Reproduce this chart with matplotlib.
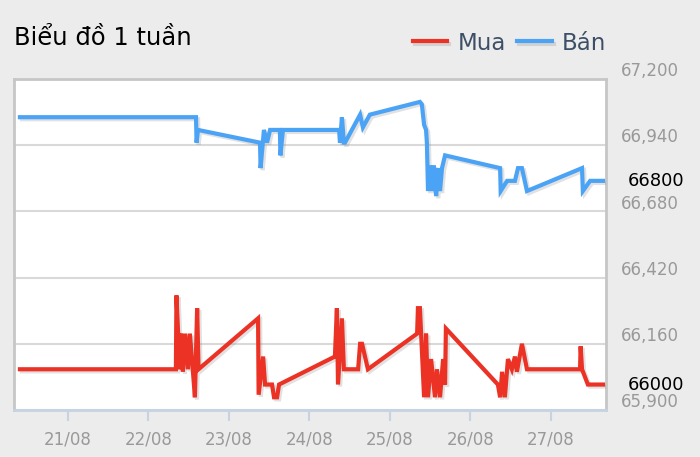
import pandas as pd
import matplotlib
matplotlib.use("Agg")
import matplotlib.pyplot as plt
import matplotlib.dates as mdates
import matplotlib.patheffects as pe
from matplotlib.ticker import FuncFormatter
from matplotlib.transforms import ScaledTranslation

YEAR = "2023"

ban_times = ["20/08 09:40", "22/08 14:10", "22/08 14:20", "22/08 14:45",
             "23/08 09:15", "23/08 09:25", "23/08 10:25", "23/08 11:20",
             "23/08 12:15", "23/08 15:10", "23/08 15:20", "23/08 16:05",
             "24/08 08:50", "24/08 09:05", "24/08 09:40", "24/08 10:15",
             "24/08 10:35", "24/08 15:05", "24/08 15:55", "24/08 18:00",
             "25/08 08:55", "25/08 09:30", "25/08 10:10", "25/08 10:45",
             "25/08 11:00", "25/08 11:20", "25/08 11:55", "25/08 12:30",
             "25/08 13:05", "25/08 13:45", "25/08 14:20", "25/08 14:55",
             "25/08 15:30", "25/08 16:25", "26/08 08:50", "26/08 09:00",
             "26/08 10:55", "26/08 13:15", "26/08 14:10", "26/08 15:20",
             "26/08 16:50", "27/08 09:15", "27/08 09:30", "27/08 11:40",
             "27/08 15:30"]
ban_values = [67050, 67050, 66950, 67000,
              66950, 66850, 67000, 66950,
              67000, 67000, 66900, 67000,
              67000, 66950, 67050, 66950,
              66950, 67060, 67010, 67060,
              67110, 67100, 67020, 67000,
              66950, 66760, 66860, 66760,
              66860, 66740, 66850, 66760,
              66850, 66900, 66850, 66760,
              66800, 66800, 66850, 66850,
              66760, 66850, 66760, 66800,
              66800]

mua_times = ["20/08 09:40", "22/08 08:10", "22/08 08:20", "22/08 08:50",
             "22/08 09:05", "22/08 09:40", "22/08 10:15", "22/08 10:55",
             "22/08 11:45", "22/08 12:20", "22/08 13:15", "22/08 13:50",
             "22/08 14:30", "22/08 14:55", "23/08 08:40", "23/08 08:50",
             "23/08 10:10", "23/08 10:45", "23/08 12:50", "23/08 13:25",
             "23/08 14:20", "23/08 14:55", "24/08 07:35", "24/08 08:10",
             "24/08 08:30", "24/08 09:40", "24/08 10:15", "24/08 14:30",
             "24/08 15:05", "24/08 15:40", "24/08 17:25", "25/08 08:05",
             "25/08 08:20", "25/08 08:55", "25/08 10:10", "25/08 10:45",
             "25/08 11:20", "25/08 12:15", "25/08 13:25", "25/08 14:00",
             "25/08 14:55", "25/08 15:50", "25/08 16:25", "25/08 16:40",
             "26/08 08:10", "26/08 08:50", "26/08 09:25", "26/08 10:15",
             "26/08 11:10", "26/08 12:20", "26/08 13:15", "26/08 13:50",
             "26/08 15:20", "26/08 16:50", "27/08 08:40", "27/08 08:50",
             "27/08 09:15", "27/08 11:00", "27/08 15:30"]
mua_values = [66060, 66060, 66350, 66200,
              66060, 66200, 66050, 66200,
              66060, 66200, 66050, 65950,
              66300, 66060, 66260, 65960,
              66110, 66000, 66000, 65950,
              65950, 66000, 66110, 66300,
              66000, 66260, 66060, 66060,
              66160, 66160, 66060, 66200,
              66300, 66300, 65950, 66200,
              65950, 66100, 65950, 66060,
              65950, 66100, 66000, 66220,
              66000, 65950, 66050, 65950,
              66100, 66060, 66110, 66050,
              66160, 66060, 66060, 66150,
              66060, 66000, 66000]

y_ticks = [65900, 66160, 66420, 66680, 66940, 67200]
x_ticks = ["21/08", "22/08", "23/08", "24/08", "25/08", "26/08", "27/08"]
x_start = "20/08 07:54"
x_end = "27/08 16:24"


def to_dt(s):
    return pd.to_datetime([v + "/" + YEAR if len(v) == 5 else
                           v[:5] + "/" + YEAR + v[5:] for v in s],
                          format="mixed", dayfirst=True)


ban_x = to_dt(ban_times)
mua_x = to_dt(mua_times)

fig = plt.figure(figsize=(7, 4.57), dpi=100, facecolor="#ececec")
ax = fig.add_axes([14 / 700, 1 - 410 / 457, 592 / 700, 331 / 457])
ax.set_facecolor("white")

shadow = [pe.SimpleLineShadow(offset=(1.5, -1.5), shadow_color="#888888",
                              alpha=0.25), pe.Normal()]
red = "#ec3224"
blue = "#4ba3f6"
ax.plot(mua_x, mua_values, color=red, lw=3.0, label="Mua",
        path_effects=shadow, solid_joinstyle="miter", zorder=3)
ax.plot(ban_x, ban_values, color=blue, lw=3.0, label="Bán",
        path_effects=shadow, solid_joinstyle="miter", zorder=3)

ax.set_ylim(y_ticks[0], y_ticks[-1])
ax.set_xlim(to_dt([x_start])[0], to_dt([x_end])[0])

ax.set_yticks(y_ticks)
ax.yaxis.set_major_formatter(FuncFormatter(lambda v, p: f"{int(v):,}"))
ax.yaxis.tick_right()
ax.tick_params(axis="y", length=0, pad=11, labelsize=12, labelcolor="#999999")
for lab in ax.get_yticklabels():
    lab.set_verticalalignment("baseline")
    lab.set_transform(lab.get_transform() +
                      ScaledTranslation(0, 2 / 72, fig.dpi_scale_trans))
ax.grid(axis="y", color="#d9d9d9", lw=1.5)
ax.set_axisbelow(True)

ax.set_xticks(to_dt(x_ticks))
ax.xaxis.set_major_formatter(mdates.DateFormatter("%d/%m"))
ax.tick_params(axis="x", direction="out", length=8, width=1.5,
               color="#c5d3e3", pad=7, labelsize=12, labelcolor="#999999")

for s in ax.spines.values():
    s.set_color("#c6c6c6")
    s.set_linewidth(2)
ax.spines["bottom"].set_color("#c5d3e3")

# last value labels
ax.text(1.036, mua_values[-1], f"{mua_values[-1]}", transform=ax.get_yaxis_transform(),
        ha="left", va="center", fontsize=13, color="black")
ax.text(1.036, ban_values[-1], f"{ban_values[-1]}", transform=ax.get_yaxis_transform(),
        ha="left", va="center", fontsize=13, color="black")

fig.text(14 / 700, 1 - 38 / 457, "Biểu đồ 1 tuần", fontsize=17.5,
         color="black", va="center", ha="left")

fig.legend(loc="center right", bbox_to_anchor=(627 / 700, 1 - 43 / 457),
           ncol=2, frameon=False, fontsize=16.5, handlelength=1.5,
           handletextpad=0.45, columnspacing=0.5, labelcolor="#3d4f66")

fig.savefig("out.png", dpi=100, facecolor=fig.get_facecolor())
